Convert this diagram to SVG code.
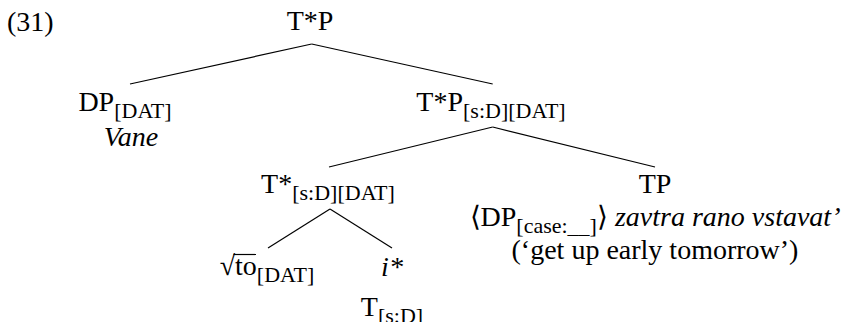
<svg xmlns="http://www.w3.org/2000/svg" width="849" height="322" viewBox="0 0 849 322">
<style>
text{font-family:"Liberation Serif","Times New Roman",serif;font-size:28px;fill:#000;}
.m{text-anchor:middle;}
.s{font-size:22px;}
.i{font-style:italic;}
.e line{stroke:#000;stroke-width:1.2;fill:none;}
</style>
<rect width="849" height="322" fill="#fff"/>
<text x="7" y="31">(31)</text>
<g class="e" id="connectors">
<line x1="311.7" y1="44" x2="130" y2="84"/>
<line x1="311.7" y1="44" x2="492.7" y2="84"/>
<line x1="492.7" y1="127" x2="329" y2="167"/>
<line x1="492.7" y1="127" x2="655" y2="167"/>
<line x1="330" y1="209" x2="268" y2="248"/>
<line x1="330" y1="209" x2="392" y2="248"/>
</g>
<g id="n-root"><text class="m" x="310" y="30">T*P</text></g>
<g id="n-dp"><text class="m" x="125" y="111">DP<tspan class="s" dy="7">[DAT]</tspan></text>
<text class="m i" x="131" y="146">Vane</text></g>
<g id="n-tstarp"><text class="m" x="491" y="111">T*P<tspan class="s" dy="7">[s:D][DAT]</tspan></text></g>
<g id="n-tstar"><text class="m" x="328" y="193">T*<tspan class="s" dy="7">[s:D][DAT]</tspan></text></g>
<g id="n-tp"><text class="m" x="655" y="193">TP</text>
<text class="m" x="655" y="226">⟨DP<tspan class="s" dy="7">[case:__]</tspan><tspan dy="-7">⟩ </tspan><tspan class="i">zavtra rano vstavat’</tspan></text>
<text class="m" x="655" y="259">(‘get up early tomorrow’)</text></g>
<g id="n-root-to"><text class="m" x="267" y="275">√to<tspan class="s" dy="7">[DAT]</tspan></text>
<line x1="233.5" y1="254.5" x2="256" y2="254.5" stroke="#000" stroke-width="1.2"/></g>
<g id="n-istar"><text class="m i" x="392" y="276">i*</text>
<text class="m" x="392" y="316">T<tspan class="s" dy="7">[s:D]</tspan></text></g>
</svg>
